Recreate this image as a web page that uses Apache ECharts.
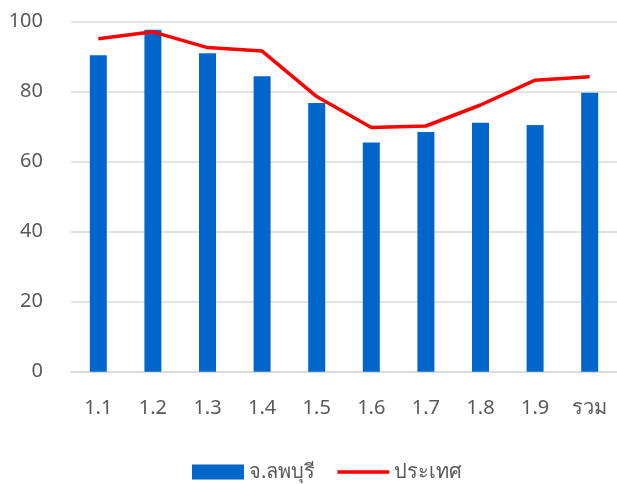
<!DOCTYPE html>
<html>
<head>
<meta charset="utf-8">
<script src="https://cdn.jsdelivr.net/npm/echarts@6/dist/echarts.min.js"></script>
<style>
  html, body { margin: 0; padding: 0; background: #fff; }
  #chart { width: 617px; height: 484px; }
</style>
</head>
<body>
<div id="chart"></div>
<script>
// ข้อมูลกราฟ
var categories = ['1.1', '1.2', '1.3', '1.4', '1.5', '1.6', '1.7', '1.8', '1.9', 'รวม'];
var lopburi = [90.4, 97.7, 91.0, 84.4, 76.8, 65.5, 68.5, 71.1, 70.5, 79.7];
var country = [95.1, 97.1, 92.6, 91.6, 78.6, 69.8, 70.2, 76.2, 83.3, 84.3];
var yTicks = [0, 20, 40, 60, 80, 100];

var textColor = '#595959';
var fontFamily = '"Noto Sans", "DejaVu Sans", sans-serif';

var myChart = echarts.init(document.getElementById('chart'));

option = {
    animation: false,
    backgroundColor: '#fff',
    textStyle: { fontFamily: fontFamily },
    grid: { left: 71, top: 21.7, width: 556, height: 350 },
    legend: {
        left: 187,
        top: 457,
        itemWidth: 52,
        itemHeight: 15,
        itemGap: 22,
        textStyle: { color: textColor, fontSize: 20, fontFamily: fontFamily },
        data: [
            { name: 'จ.ลพบุรี', icon: 'rect' },
            // เส้นบาง ๆ ตรงกลางกล่อง
            { name: 'ประเทศ', icon: 'path://M0,0M52,15M0,5.75H52V9.25H0Z' }
        ]
    },
    xAxis: {
        type: 'category',
        data: categories,
        axisLine: { lineStyle: { color: '#d9d9d9', width: 1.5 } },
        axisTick: { show: false },
        axisLabel: { color: textColor, fontSize: 20, margin: 27 }
    },
    yAxis: {
        type: 'value',
        min: yTicks[0],
        max: yTicks[yTicks.length - 1],
        interval: 20,
        axisLine: { show: false },
        axisTick: { show: false },
        splitLine: { lineStyle: { color: '#d9d9d9', width: 1.5 } },
        axisLabel: { color: textColor, fontSize: 20, margin: 28 }
    },
    series: [
        {
            name: 'จ.ลพบุรี',
            type: 'bar',
            data: lopburi,
            barWidth: 17,
            itemStyle: { color: '#0066cc' }
        },
        {
            name: 'ประเทศ',
            type: 'line',
            data: country,
            symbol: 'none',
            lineStyle: { color: '#ff0000', width: 3.5 },
            itemStyle: { color: '#ff0000' }
        }
    ]
};

myChart.setOption(option, true);
</script>
</body>
</html>
